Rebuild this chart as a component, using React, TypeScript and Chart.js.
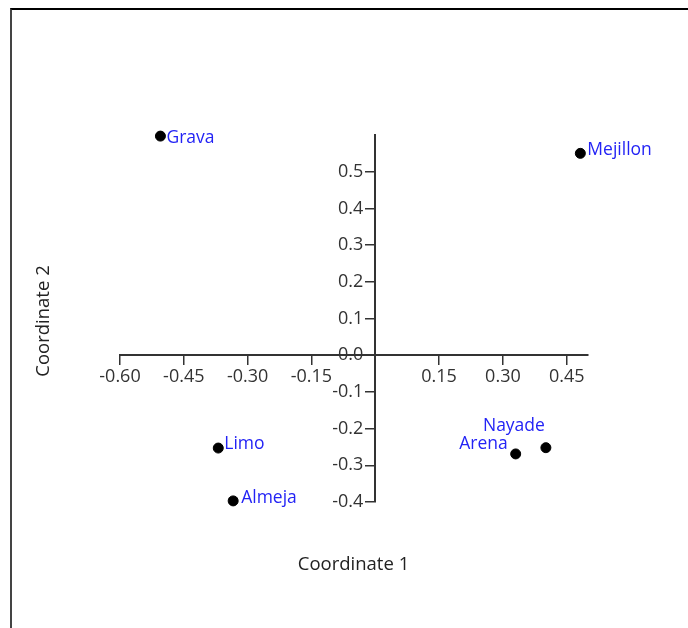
import React, { useEffect, useRef } from "react";
import { Chart, registerables } from "chart.js";

Chart.register(...registerables);

const names = ["Grava", "Mejillon", "Limo", "Almeja", "Arena", "Nayade"];
const coord1 = [-0.505, 0.482, -0.369, -0.334, 0.33, 0.401];
const coord2 = [0.597, 0.55, -0.253, -0.397, -0.269, -0.252];

const xTicks = [-0.6, -0.45, -0.3, -0.15, 0.15, 0.3, 0.45];
const yTicks = [-0.4, -0.3, -0.2, -0.1, 0.0, 0.1, 0.2, 0.3, 0.4, 0.5];

// label placement style: [dx, dy(baseline), align]
const labelStyle: Array<[number, number, CanvasTextAlign]> = [
  [6, 7, "left"],
  [7, 2, "left"],
  [6, 1, "left"],
  [8, 2, "left"],
  [-8, -5, "right"],
  [-1, -17, "right"],
];

const FONT = "'Open Sans', 'Noto Sans', sans-serif";
const Y_TICK_LEN = 9;
const Y_TICK_PAD = 3;

const yLabelShift = {
  id: "yLabelShift",
  beforeDraw(chart: any) {
    const s = chart.scales.y;
    const items = s.getLabelItems(chart.chartArea);
    if (!s._shifted || s._shifted !== items) {
      items.forEach((it: any) => {
        it.options.translation[0] -= Y_TICK_LEN + Y_TICK_PAD;
      });
      s._shifted = items;
    }
  },
};

const labelsPlugin = {
  id: "pointLabels",
  afterDatasetsDraw(chart: any) {
    const ctx = chart.ctx;
    const meta = chart.getDatasetMeta(0);
    ctx.save();
    ctx.font = `17.5px ${FONT}`;
    ctx.fillStyle = "#2323f5";
    ctx.textBaseline = "alphabetic";
    meta.data.forEach((el: any, i: number) => {
      const [dx, dy, align] = labelStyle[i];
      ctx.textAlign = align;
      ctx.fillText(names[i], el.x + dx, el.y + dy);
    });
    ctx.restore();
  },
};

const titlesPlugin = {
  id: "axisTitles",
  afterDraw(chart: any) {
    const ctx = chart.ctx;
    ctx.save();
    ctx.font = `18.5px ${FONT}`;
    ctx.fillStyle = "#222";
    ctx.textAlign = "center";
    ctx.textBaseline = "middle";
    ctx.fillText("Coordinate 1", 353.5, 565);
    ctx.translate(44, 321);
    ctx.rotate(-Math.PI / 2);
    ctx.fillText("Coordinate 2", 0, 0);
    ctx.restore();
  },
};

export default function App() {
  const ref = useRef<HTMLCanvasElement>(null);
  useEffect(() => {
    const chart = new Chart(ref.current!, {
      type: "scatter",
      data: {
        datasets: [
          {
            data: coord1.map((x, i) => ({ x, y: coord2[i] })),
            backgroundColor: "#000",
            borderColor: "#000",
            pointRadius: 5,
            pointHoverRadius: 5,
            clip: false as any,
          },
        ],
      },
      options: {
        responsive: false,
        animation: false,
        devicePixelRatio: 1,
        events: [],
        layout: { padding: { left: 120, right: 100, top: 135, bottom: 126 } },
        plugins: { legend: { display: false }, tooltip: { enabled: false } },
        scales: {
          x: {
            type: "linear",
            min: -0.6,
            max: 0.5,
            position: { y: 0 } as any,
            afterBuildTicks: (s: any) => {
              s.ticks = xTicks.map((v) => ({ value: v }));
            },
            ticks: {
              autoSkip: false,
              maxRotation: 0,
              padding: 2,
              color: "#333",
              font: { family: FONT, size: 18 },
              callback: (v: any) => Number(v).toFixed(2),
            },
            grid: { drawOnChartArea: false, drawTicks: true, tickLength: 9, color: "#333", lineWidth: 1.5 },
            border: { display: true, color: "#333", width: 2 },
          },
          y: {
            type: "linear",
            min: -0.4,
            max: 0.6,
            position: { x: 0 } as any,
            afterBuildTicks: (s: any) => {
              s.ticks = yTicks.map((v) => ({ value: v }));
            },
            ticks: {
              autoSkip: false,
              padding: Y_TICK_PAD,
              color: "#333",
              font: { family: FONT, size: 18 },
              callback: (v: any) => Number(v).toFixed(1),
            },
            grid: { drawOnChartArea: false, drawTicks: true, tickLength: Y_TICK_LEN, color: "#333", lineWidth: 1.5 },
            border: { display: true, color: "#333", width: 2 },
          },
        },
      },
      plugins: [yLabelShift, labelsPlugin, titlesPlugin],
    });
    return () => chart.destroy();
  }, []);
  return (
    <div style={{ position: "fixed", left: 0, top: 0, width: 688, height: 628, background: "#fff", overflow: "hidden" }}>
      <div
        style={{
          position: "absolute",
          left: 10,
          top: 8,
          width: 700,
          height: 640,
          borderTop: "2px solid #000",
          borderLeft: "2px solid #444",
        }}
      />
      <canvas ref={ref} width={688} height={628} style={{ position: "absolute", left: 0, top: 0 }} />
    </div>
  );
}
